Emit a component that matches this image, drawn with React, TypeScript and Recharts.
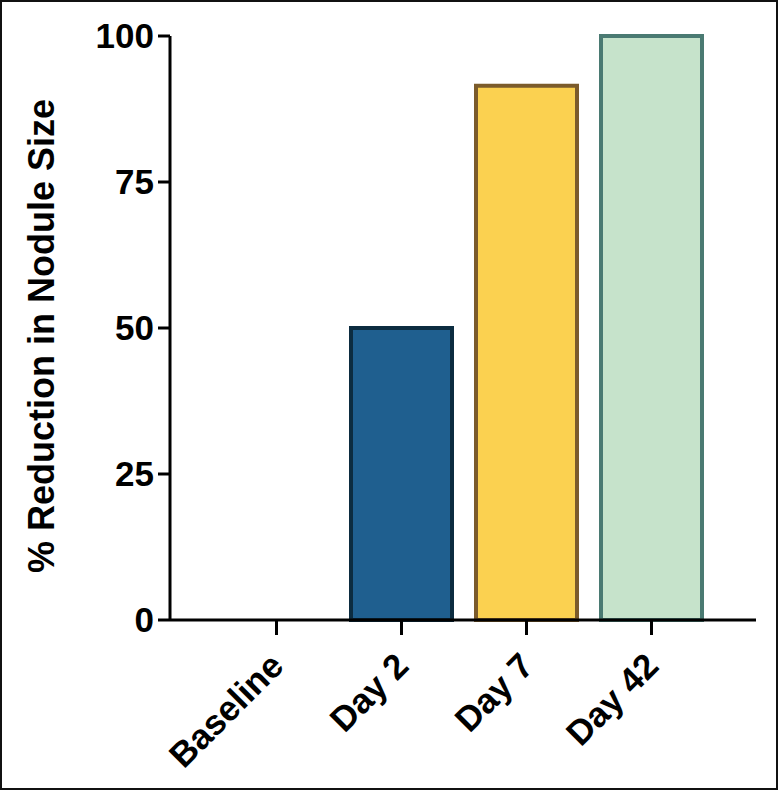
import React from 'react';
import { BarChart, Bar, XAxis, YAxis, Cell } from 'recharts';

const categories = ['Baseline', 'Day 2', 'Day 7', 'Day 42'];
const reduction = [0, 50, 91.5, 100];
const fills = ['#ffffff', '#1f5f8f', '#fbd150', '#c6e3cb'];
const strokes = ['#000000', '#0c2c40', '#7b5b2b', '#4a7a72'];
const yTicks = [0, 25, 50, 75, 100];

const FONT = '"Liberation Sans", Arial, Helvetica, sans-serif';

const chartData = categories.map((name, i) => ({ name, value: reduction[i] }));

// rotated category label, text ends just below the tick
const XTick = ({ x, y, payload }: any) => (
  <g transform={`translate(${x + 9},${y + 33})`}>
    <text
      x={0}
      y={0}
      textAnchor="end"
      transform="rotate(-45)"
      fontFamily={FONT}
      fontWeight="bold"
      fontSize={35}
      fill="#000"
    >
      {payload.value}
    </text>
  </g>
);

const YLabel = ({ viewBox }: any) => {
  const cx = 54;
  const cy = viewBox.y + viewBox.height / 2 + 8;
  return (
    <text
      x={cx}
      y={cy}
      textAnchor="middle"
      transform={`rotate(-90, ${cx}, ${cy})`}
      fontFamily={FONT}
      fontWeight="bold"
      fontSize={36}
      fill="#000"
    >
      % Reduction in Nodule Size
    </text>
  );
};

export default function App() {
  return (
    <div style={{ position: 'relative', width: 778, height: 790, background: '#fff' }}>
      <style>{`body{margin:0}`}</style>
      <BarChart
        width={778}
        height={790}
        data={chartData}
        margin={{ top: 36, right: 22, left: 0, bottom: 0 }}
        barCategoryGap={12}
      >
        <XAxis
          dataKey="name"
          height={170}
          padding={{ left: 44, right: 42 }}
          axisLine={{ stroke: '#000', strokeWidth: 3 }}
          tickLine={{ stroke: '#000', strokeWidth: 3 }}
          tickSize={15}
          tickMargin={0}
          interval={0}
          tick={<XTick />}
        />
        <YAxis
          width={170}
          domain={[0, 100]}
          ticks={yTicks}
          interval={0}
          axisLine={{ stroke: '#000', strokeWidth: 3 }}
          tickLine={{ stroke: '#000', strokeWidth: 3 }}
          tickSize={12}
          tickMargin={4}
          tick={{ fontFamily: FONT, fontWeight: 'bold', fontSize: 35, fill: '#000' }}
          label={<YLabel />}
        />
        <Bar dataKey="value" isAnimationActive={false} strokeWidth={4}>
          {chartData.map((d, i) => (
            <Cell key={d.name} fill={fills[i]} stroke={strokes[i]} />
          ))}
        </Bar>
      </BarChart>
      <div
        style={{
          position: 'absolute',
          inset: 0,
          border: '2px solid #111',
          pointerEvents: 'none',
        }}
      />
    </div>
  );
}
